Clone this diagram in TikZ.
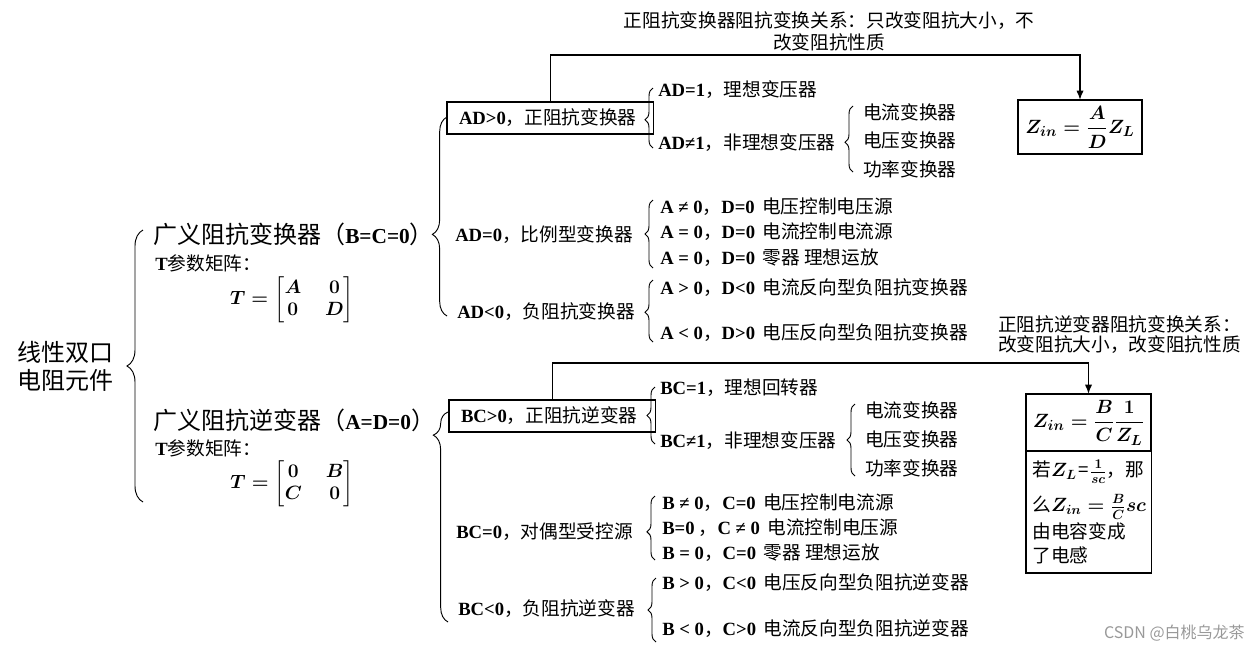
\documentclass[tikz,border=0pt]{standalone}
\usepackage{amsmath}
\usepackage{fontspec}
\setmainfont{Noto Sans CJK SC}
\newfontfamily\tnr{Liberation Serif}
\usetikzlibrary{arrows.meta,decorations.pathreplacing}
\newcommand{\enb}[1]{{\tnr\bfseries #1}}
\newcommand{\enbig}[1]{{\fontsize{16}{19}\selectfont\tnr\bfseries #1}}
\newcommand{\bmath}[1]{\mbox{\boldmath$#1$}}
\newcommand{\tmat}[4]{\mbox{\boldmath\setlength{\arraycolsep}{9pt}$T=\begin{bmatrix}#1&#2\\#3&#4\end{bmatrix}$}}
\begin{document}
\begin{tikzpicture}[x=0.75pt, y=-0.75pt,
  txt/.style={anchor=west, inner sep=0pt, font=\fontsize{14}{17}\selectfont},
  big/.style={anchor=west, inner sep=0pt, font=\fontsize{18}{21}\selectfont},
  box/.style={draw=black, line width=1pt, outer sep=0pt},
  brc/.style n args={2}{decorate, line width=0.7pt, decoration={brace, amplitude=#1, aspect=#2}},
  arr/.style={line width=1.2pt, -{Latex[length=7pt,width=5.5pt]}}]
\useasboundingbox (0,0) rectangle (1258,651);

\node[font=\fontsize{18}{21}\selectfont, align=center] (root) at (65,366) {线性双口\\电阻元件};

\node[big] (gA) at (153,234) {广义阻抗变换器（\enbig{B=C=0}）};
\node[txt] (tA) at (155,263) {\enb{T}参数矩阵：};
\node[txt, anchor=center] (mA) at (292,300) {\tmat{A}{0}{0}{D}};

\node[big] (gB) at (153,420) {广义阻抗逆变器（\enbig{A=D=0}）};
\node[txt] (tB) at (155,448) {\enb{T}参数矩阵：};
\node[txt, anchor=center] (mB) at (292,484) {\tmat{0}{B}{C}{0}};

\node[box, txt, text width=137pt, align=left, inner xsep=9pt, minimum height=24pt] (adp) at (447,118) {\enb{AD>0}，正阻抗变换器};
\node[txt] (adone) at (658,90) {\enb{AD=1}，理想变压器};
\node[txt] (adnot) at (658,143) {\enb{AD≠1}，非理想变压器};
\node[txt] (adI) at (863,112) {电流变换器};
\node[txt] (adV) at (863,140) {电压变换器};
\node[txt] (adP) at (863,169) {功率变换器};
\node[txt] (adzero) at (455,235) {\enb{AD=0}，比例型变换器};
\node[txt] (azA) at (660,207) {\enb{A ≠ 0}，\enb{D=0}\hspace{0.4em}电压控制电压源};
\node[txt] (azB) at (660,232) {\enb{A = 0}，\enb{D=0}\hspace{0.4em}电流控制电流源};
\node[txt] (azC) at (660,258) {\enb{A = 0}，\enb{D=0}\hspace{0.4em}零器 理想运放};
\node[txt] (adneg) at (457,312) {\enb{AD<0}，负阻抗变换器};
\node[txt] (anA) at (660,288) {\enb{A > 0}，\enb{D<0}\hspace{0.4em}电流反向型负阻抗变换器};
\node[txt] (anB) at (660,333) {\enb{A < 0}，\enb{D>0}\hspace{0.4em}电压反向型负阻抗变换器};

\node[box, txt, text width=137pt, align=left, inner xsep=9pt, minimum height=24pt] (bcp) at (449,416) {\enb{BC>0}，正阻抗逆变器};
\node[txt] (bcone) at (660,388) {\enb{BC=1}，理想回转器};
\node[txt] (bcnot) at (660,441) {\enb{BC≠1}，非理想变压器};
\node[txt] (bcI) at (865,410) {电流变换器};
\node[txt] (bcV) at (865,439) {电压变换器};
\node[txt] (bcP) at (865,468) {功率变换器};
\node[txt] (bczero) at (456,532) {\enb{BC=0}，对偶型受控源};
\node[txt] (bzA) at (662,503) {\enb{B ≠ 0}，\enb{C=0}\hspace{0.4em}电压控制电流源};
\node[txt] (bzB) at (662,528) {\enb{B=0} ，\enb{C ≠ 0}\hspace{0.4em}电流控制电压源};
\node[txt] (bzC) at (662,553) {\enb{B = 0}，\enb{C=0}\hspace{0.4em}零器 理想运放};
\node[txt] (bcneg) at (458,609) {\enb{BC<0}，负阻抗逆变器};
\node[txt] (bnA) at (662,583) {\enb{B > 0}，\enb{C<0}\hspace{0.4em}电压反向型负阻抗逆变器};
\node[txt] (bnB) at (662,629) {\enb{B < 0}，\enb{C>0}\hspace{0.4em}电流反向型负阻抗逆变器};

\foreach \bx/\btop/\bbot/\bamp/\basp in {143/230/502/12pt/0.5, 447/117/316/11pt/0.41, 448/412/622/11pt/0.89,
    653/88/148/6pt/0.47, 853/106/172/6pt/0.45, 653/200/268/6pt/0.5, 653/280/342/6pt/0.48,
    655/387/444/6pt/0.5, 855/404/476/6pt/0.5, 655/496/560/6pt/0.44, 656/578/642/6pt/0.5}
  \draw[brc={\bamp}{\basp}] (\bx,\bbot) -- (\bx,\btop);

\node[font=\fontsize{14}{16.5}\selectfont, align=center] (noteA) at (829,31) {正阻抗变换器阻抗变换关系：只改变阻抗大小，不\\改变阻抗性质};
\node[box, minimum width=93pt, minimum height=40.5pt, font=\fontsize{15}{18}\selectfont] (zad) at (1080,127) {\bmath{Z_{in}=\dfrac{A}{D}Z_L}};
\draw[arr] (adp.north) -- ++(0,-47) -| (zad.north);

\node[anchor=west, inner sep=0pt, font=\fontsize{14}{15}\selectfont, align=left] (noteB) at (998,335) {正阻抗逆变器阻抗变换关系：\\改变阻抗大小，改变阻抗性质};
\node[box, minimum width=93.75pt, minimum height=42.75pt, font=\fontsize{15}{18}\selectfont] (zbc) at (1088.5,422.5) {\bmath{Z_{in}=\dfrac{B}{C}\dfrac{1}{Z_L}}};
\node[box, anchor=north, text width=84pt, inner xsep=5pt, minimum height=91.5pt, align=left, font=\fontsize{14}{18}\selectfont] (zbcnote) at (zbc.south) {若\bmath{Z_L}\kern1pt=\kern1pt\bmath{\frac{1}{sc}}，那\\[7pt]\mbox{么\bmath{Z_{in}=\frac{B}{C}sc}}\\[2pt]由电容变成\\了电感};
\draw[arr] (bcp.north) -- ++(0,-37) -| (zbc.north);

\node[anchor=east, inner sep=0pt, text=gray!80, font=\fontsize{12}{14}\selectfont] (mark) at (1245,633) {CSDN @白桃乌龙茶};
\end{tikzpicture}
\end{document}
